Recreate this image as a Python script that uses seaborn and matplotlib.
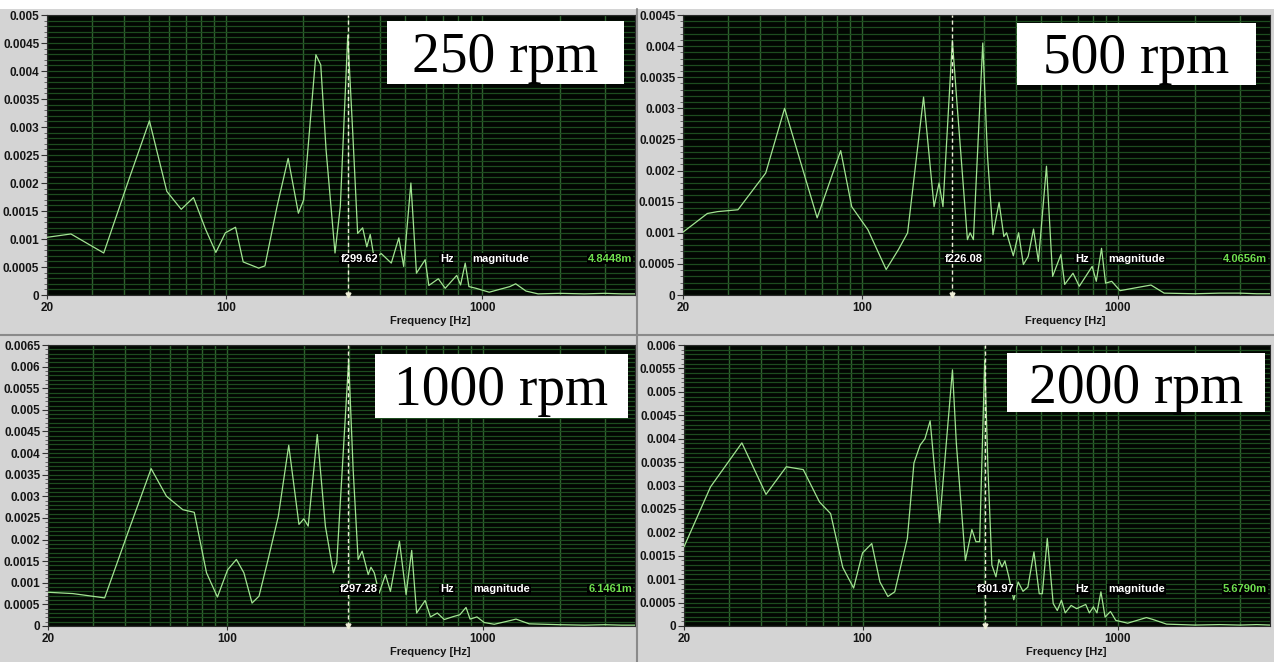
import numpy as np
import pandas as pd
import matplotlib
matplotlib.use("Agg")
import matplotlib.pyplot as plt
import matplotlib.ticker as mticker
from matplotlib.patches import Rectangle
import seaborn as sns

# ---------------- data ----------------
rpm_labels = ["250 rpm", "500 rpm", "1000 rpm", "2000 rpm"]
cursor_freq = [299.62, 226.08, 297.28, 301.97]
readouts = ["4.8448m", "4.0656m", "6.1461m", "5.6790m"]
y_max = [0.005, 0.0045, 0.0065, 0.006]
x_ticks = [20, 100, 1000]

freq_250 = [20, 24.8, 33.3, 41.5, 50.2, 58.7, 66.8, 74.6, 83.2, 91.2,
            99.3, 108.8, 116.6, 134, 141.7, 158, 174.6, 191.4, 200.7, 224,
            234, 245.5, 266, 279, 298.3, 312, 326, 341, 354, 365,
            378, 403, 441, 472, 493, 526, 553, 598, 618, 673,
            716, 794, 822, 857, 886, 944, 1063, 1279, 1349, 1480,
            1650, 2000, 2500, 3000, 3500, 3940]
mag_250 = [0.00103, 0.00109, 0.00075, 0.00203, 0.00311, 0.00185, 0.00153, 0.00174, 0.00117, 0.00076,
           0.00111, 0.00121, 0.00059, 0.00048, 0.00052, 0.00158, 0.00244, 0.00146, 0.0017, 0.00429,
           0.00411, 0.00259, 0.00075, 0.00158, 0.00464, 0.00289, 0.0011, 0.0012, 0.00086, 0.00108,
           0.00066, 0.00074, 0.00057, 0.00102, 0.00051, 0.002, 0.00039, 0.00063, 0.00017, 0.00029,
           0.00012, 0.00035, 0.00018, 0.00057, 0.00015, 0.00012, 0.00005, 0.00015, 0.0002, 0.00007,
           0.00002, 0.00003, 0.00002, 0.00003, 0.00002, 0.00002]

freq_500 = [20, 24.9, 27.3, 32.8, 42.1, 49.9, 66.9, 82.7, 91.3, 105.6,
            124.5, 139, 151, 174.3, 191.6, 200.4, 207.6, 225.9, 236, 258.7,
            265, 273, 297, 310, 325.6, 344, 359, 368, 391, 410,
            428, 447, 469, 490, 527, 557, 600, 621, 669, 708,
            795, 825, 865, 897, 948, 1022, 1268, 1350, 1520, 2000,
            2500, 3000, 3500, 3940]
mag_500 = [0.00101, 0.00131, 0.00134, 0.00137, 0.00196, 0.003, 0.00124, 0.00232, 0.00142, 0.00105,
           0.00041, 0.00073, 0.001, 0.00318, 0.00142, 0.0018, 0.00142, 0.00409, 0.00303, 0.00089,
           0.001, 0.00089, 0.00405, 0.00223, 0.00097, 0.00149, 0.00094, 0.001, 0.00063, 0.001,
           0.00049, 0.00062, 0.00106, 0.00054, 0.00207, 0.0003, 0.00065, 0.00017, 0.00035, 0.00014,
           0.00046, 0.00022, 0.00075, 0.00019, 0.00022, 0.00007, 0.00014, 0.00016, 0.00003, 0.00002,
           0.00003, 0.00003, 0.00002, 0.00002]

freq_1000 = [20, 25, 33.3, 41, 50.6, 58.1, 67.3, 74.6, 83.3, 91.9,
             100.7, 109, 116.6, 125.5, 133.6, 145, 159, 174.6, 191.4, 200,
             208, 225.7, 242.8, 261, 269, 299.4, 311.7, 326, 338, 357,
             366, 377, 394, 417, 436, 473, 502, 528, 552, 596,
             625, 665, 708, 770, 814, 861, 893, 950, 1015, 1110,
             1290, 1350, 1520, 2000, 2500, 3000, 3500, 3940]
mag_1000 = [0.00078, 0.00075, 0.00065, 0.00215, 0.00364, 0.003, 0.00269, 0.00263, 0.00123, 0.00067,
            0.0013, 0.00154, 0.00123, 0.00053, 0.00069, 0.00154, 0.00254, 0.00418, 0.00235, 0.00248,
            0.00231, 0.00443, 0.00231, 0.00123, 0.00146, 0.00615, 0.00362, 0.00154, 0.00173, 0.00119,
            0.00136, 0.00123, 0.00076, 0.00119, 0.0008, 0.00196, 0.00073, 0.00175, 0.0003, 0.00059,
            0.00021, 0.0003, 0.00015, 0.00022, 0.00026, 0.00043, 0.00016, 0.00021, 0.00008, 0.00004,
            0.00013, 0.00016, 0.00005, 0.00003, 0.00002, 0.00003, 0.00002, 0.00002]

freq_2000 = [20, 25.4, 33.7, 41.9, 50.3, 58.6, 67.8, 75, 83.7, 92.3,
             100, 108.7, 117, 125.7, 133.7, 149.8, 159, 168, 175.6, 184,
             200.3, 225, 233, 252.8, 268, 278, 287.5, 301, 310, 321,
             333, 342, 351.6, 361, 374, 391, 407, 425, 444, 469,
             492, 506, 529, 558, 579, 601, 622, 656, 689, 748,
             773, 802, 828, 858, 891, 935, 981, 1092, 1293, 1370,
             1551, 2000, 2500, 3000, 3500, 3940]
mag_2000 = [0.00169, 0.00297, 0.00391, 0.00281, 0.0034, 0.00334, 0.00265, 0.0024, 0.00125, 0.00081,
            0.00156, 0.00176, 0.00094, 0.00063, 0.00073, 0.00187, 0.00348, 0.00386, 0.004, 0.00438,
            0.0022, 0.00547, 0.0039, 0.0014, 0.00206, 0.0018, 0.0018, 0.00568, 0.00333, 0.0013,
            0.00105, 0.00142, 0.00126, 0.00139, 0.00105, 0.00056, 0.00094, 0.00074, 0.00083, 0.00158,
            0.00069, 0.00069, 0.00187, 0.00048, 0.00033, 0.00055, 0.00028, 0.00044, 0.00037, 0.00046,
            0.00028, 0.00041, 0.00028, 0.00073, 0.00019, 0.00031, 0.00012, 0.00006, 0.00018, 0.00014,
            0.00004, 0.00002, 0.00003, 0.00002, 0.00003, 0.00002]

series = [(freq_250, mag_250), (freq_500, mag_500), (freq_1000, mag_1000), (freq_2000, mag_2000)]

# ---------------- style ----------------
sns.set_theme(style="dark")
SANS = ["Liberation Sans", "DejaVu Sans"]
plt.rcParams["font.family"] = SANS

W, H = 1274, 662
fig = plt.figure(figsize=(W / 100, H / 100), dpi=100)
fig.patch.set_facecolor("#d4d4d4")

# axes boxes in pixels: (left, top, right, bottom)
ax_px = [(47, 15, 635, 295), (683, 15, 1270, 295),
         (48, 345, 635, 626), (684, 345, 1270, 626)]
# label boxes in pixels: (left, top, right, bottom, baseline)
box_px = [(387, 21, 624, 84, 72), (1017, 23, 1256, 85, 73),
          (375, 354, 628, 418, 405), (1007, 353, 1265, 412, 403)]

LINE = "#a2e492"
HGRID = "#1d4c1f"
VGRID = "#2f622f"

# top white strip and separators
fig.add_artist(Rectangle((0, 1 - 9 / H), 1, 9 / H, transform=fig.transFigure,
                         fc="white", ec="none", zorder=0.5))
fig.add_artist(plt.Line2D([637 / W, 637 / W], [0, 1 - 9 / H], transform=fig.transFigure,
                          color="#8a8a8a", lw=1.5, zorder=0.6))
fig.add_artist(plt.Line2D([0, 1], [1 - 335 / H, 1 - 335 / H], transform=fig.transFigure,
                          color="#8a8a8a", lw=1.5, zorder=0.6))

for i, ((fr, mg), (l, t, r, b)) in enumerate(zip(series, ax_px)):
    ax = fig.add_axes([l / W, 1 - b / H, (r - l) / W, (b - t) / H])
    ax.set_facecolor("#020602")
    df = pd.DataFrame({"freq": fr, "mag": mg})
    sns.lineplot(data=df, x="freq", y="mag", ax=ax, color=LINE, lw=0.9, zorder=3)
    ax.set_xscale("log")
    ax.set_xlim(20, 3940)
    ax.set_ylim(0, y_max[i])

    # y ticks
    yt = np.round(np.arange(0, y_max[i] + 1e-9, 0.0005), 4)
    ax.yaxis.set_major_locator(mticker.FixedLocator(yt))
    ax.yaxis.set_major_formatter(mticker.FixedFormatter([f"{v:g}" for v in yt]))
    ax.yaxis.set_minor_locator(mticker.MultipleLocator(0.0001))
    # x ticks
    ax.xaxis.set_major_locator(mticker.FixedLocator(x_ticks))
    ax.xaxis.set_major_formatter(mticker.FixedFormatter([str(v) for v in x_ticks]))
    ax.xaxis.set_minor_locator(mticker.LogLocator(base=10, subs=np.arange(2, 10), numticks=20))
    ax.xaxis.set_minor_formatter(mticker.NullFormatter())

    ax.tick_params(axis="y", which="major", length=4, width=0.8, color="#333333",
                   labelsize=8.5, labelcolor="#151515", pad=1.5, left=True)
    ax.tick_params(axis="y", which="minor", length=2, width=0.6, color="#555555", left=True)
    ax.tick_params(axis="x", which="major", length=3, width=0.8, color="#333333",
                   labelsize=8.5, labelcolor="#151515", pad=2, bottom=True)
    ax.tick_params(axis="x", which="minor", length=0)
    for lab in ax.get_xticklabels() + ax.get_yticklabels():
        lab.set_fontweight("bold")
        lab.set_family(SANS)

    ax.grid(False)
    ax.grid(True, which="both", axis="y", color=HGRID, lw=0.9, zorder=1)
    ax.grid(True, which="both", axis="x", color=VGRID, lw=1.0, zorder=1)
    ax.set_axisbelow(True)
    for sp in ax.spines.values():
        sp.set_color("#2a2a2a")
        sp.set_linewidth(0.8)

    ax.set_ylabel("")
    ax.set_xlabel("Frequency [Hz]", fontsize=8, fontweight="bold", color="#151515", family=SANS)
    ax.xaxis.set_label_coords(0.652, -0.075)

    # cursor
    fc = cursor_freq[i]
    ax.axvline(fc, color="#eeeed8", lw=1.0, ls=(0, (3, 2)), zorder=4)
    ax.plot([fc], [0], marker="v", ms=3.5, color="#eeeed8", clip_on=False, zorder=5)
    bb = dict(fc="black", ec="none", pad=0.6)
    kw = dict(fontsize=8, fontweight="bold", family=SANS, bbox=bb, zorder=6, va="center")
    ax.annotate(f"f{fc:.2f}", xy=(fc, 0.13), xycoords=("data", "axes fraction"),
                xytext=(-8, 0), textcoords="offset pixels", ha="left", color="white", **kw)
    ax.text(0.668, 0.13, "Hz", transform=ax.transAxes, ha="left", color="white", **kw)
    ax.text(0.724, 0.13, "magnitude", transform=ax.transAxes, ha="left", color="white", **kw)
    ax.text(0.995, 0.13, readouts[i], transform=ax.transAxes, ha="right", color="#6fe04f", **kw)

    # big rpm label
    bl, bt, br, bbm, base = box_px[i]
    fig.add_artist(Rectangle((bl / W, 1 - bbm / H), (br - bl) / W, (bbm - bt) / H,
                             transform=fig.transFigure, fc="white", ec="none", zorder=10))
    fig.text((bl + br) / 2 / W, 1 - base / H, rpm_labels[i], ha="center", va="baseline",
             fontsize=40, family=["Liberation Serif", "DejaVu Serif"], color="black", zorder=11)

fig.savefig("out.png", dpi=100, facecolor=fig.get_facecolor())
